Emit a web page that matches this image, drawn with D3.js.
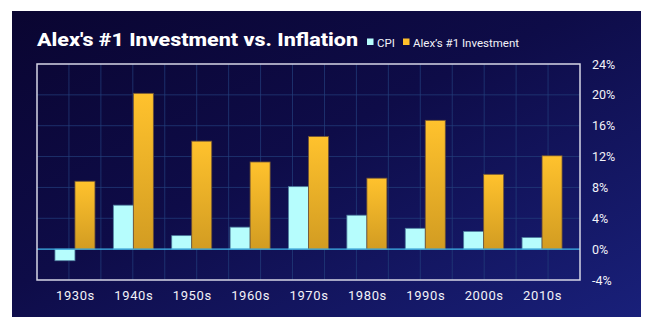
<!DOCTYPE html>
<html>
<head>
<meta charset="utf-8">
<script src="https://cdn.jsdelivr.net/npm/d3@7"></script>
<style>
  html, body { margin: 0; padding: 0; background: #fff; }
  svg { display: block; }
  text { font-family: Roboto, "Noto Sans", sans-serif; }
</style>
</head>
<body>
<svg id="chart" width="654" height="330"></svg>
<script>
// decades on the x axis
const decades = ["1930s", "1940s", "1950s", "1960s", "1970s", "1980s", "1990s", "2000s", "2010s"];
// average annual change per decade, %
const cpi = [-1.5, 5.7, 1.75, 2.85, 8.1, 4.4, 2.7, 2.3, 1.5];
const investment = [8.8, 20.2, 14.0, 11.3, 14.6, 9.2, 16.7, 9.7, 12.1];
const yTicks = [-4, 0, 4, 8, 12, 16, 20, 24];
const seriesNames = ["CPI", "Alex\u2019s #1 Investment"];

const W = 654, H = 330;
const panel = { x: 12, y: 11, w: 629, h: 306 };
const plot = { left: 37, right: 580, top: 64, bottom: 280 };

const svg = d3.select("#chart");
const defs = svg.append("defs");

// panel background: dark navy to blue toward the bottom right
const bg = defs.append("linearGradient").attr("id", "bg")
  .attr("x1", "0%").attr("y1", "0%").attr("x2", "100%").attr("y2", "100%");
bg.append("stop").attr("offset", "0%").attr("stop-color", "#0a0531");
bg.append("stop").attr("offset", "45%").attr("stop-color", "#0e0c48");
bg.append("stop").attr("offset", "100%").attr("stop-color", "#19207a");

const gold = defs.append("linearGradient").attr("id", "gold")
  .attr("x1", "0").attr("y1", "0").attr("x2", "0").attr("y2", "1");
gold.append("stop").attr("offset", "0%").attr("stop-color", "#ffc22d");
gold.append("stop").attr("offset", "100%").attr("stop-color", "#d29c22");

svg.append("rect")
  .attr("x", panel.x).attr("y", panel.y)
  .attr("width", panel.w).attr("height", panel.h)
  .attr("fill", "url(#bg)");

// scales
const x = d3.scalePoint().domain(decades)
  .range([plot.left, plot.right]).padding(0.65);
const y = d3.scaleLinear().domain([-4, 24]).range([plot.bottom, plot.top]);
const barW = 20;

// grid: horizontal every 4%, vertical every 1/17 of the width
const grid = svg.append("g");
grid.selectAll("line.h")
  .data(yTicks.filter(t => t !== 0 && t !== -4 && t !== 24))
  .join("line")
  .attr("x1", plot.left).attr("x2", plot.right)
  .attr("y1", d => y(d)).attr("y2", d => y(d))
  .attr("stroke", "#23407e").attr("stroke-opacity", 0.7).attr("stroke-width", 1);

const xGrid = d3.scaleLinear().domain([0, 17]).range([plot.left, plot.right]);
grid.selectAll("line.v")
  .data(d3.range(1, 17))
  .join("line")
  .attr("x1", d => xGrid(d)).attr("x2", d => xGrid(d))
  .attr("y1", plot.top).attr("y2", plot.bottom)
  .attr("stroke", "#23407e").attr("stroke-opacity", 0.7).attr("stroke-width", 1);

// bars
const bars = svg.append("g");
bars.selectAll("rect.cpi")
  .data(decades)
  .join("rect")
  .attr("x", d => x(d) - barW)
  .attr("y", (d, i) => y(Math.max(0, cpi[i])))
  .attr("width", barW)
  .attr("height", (d, i) => Math.abs(y(cpi[i]) - y(0)))
  .attr("fill", "#b6fdfd")
  .attr("stroke", "#4f7fa0").attr("stroke-width", 0.8);

bars.selectAll("rect.inv")
  .data(decades)
  .join("rect")
  .attr("x", d => x(d))
  .attr("y", (d, i) => y(Math.max(0, investment[i])))
  .attr("width", barW)
  .attr("height", (d, i) => Math.abs(y(investment[i]) - y(0)))
  .attr("fill", "url(#gold)")
  .attr("stroke", "#6e5236").attr("stroke-width", 0.8);

// zero line
svg.append("line")
  .attr("x1", plot.left).attr("x2", plot.right)
  .attr("y1", y(0)).attr("y2", y(0))
  .attr("stroke", "#3fb4ea").attr("stroke-width", 1.3);

// frame
svg.append("rect")
  .attr("x", plot.left).attr("y", plot.top)
  .attr("width", plot.right - plot.left).attr("height", plot.bottom - plot.top)
  .attr("fill", "none").attr("stroke", "#d6d6e6").attr("stroke-width", 1.5);

// right axis
const yAxis = svg.append("g")
  .attr("transform", `translate(${plot.right + 12},0)`)
  .call(d3.axisRight(y).tickValues(yTicks).tickSize(0).tickPadding(0).tickFormat(d => d + "%"));
yAxis.select(".domain").remove();
yAxis.selectAll("text")
  .attr("fill", "#f2f2f8").attr("font-size", 12.5)
  .style("font-family", "Roboto, sans-serif");

// bottom axis
const xAxis = svg.append("g")
  .attr("transform", `translate(0,${plot.bottom})`)
  .call(d3.axisBottom(x).tickSize(0).tickPadding(11));
xAxis.select(".domain").remove();
xAxis.selectAll("text")
  .attr("fill", "#f2f2f8").attr("font-size", 13)
  .attr("letter-spacing", 0.6)
  .style("font-family", "Roboto, sans-serif");

// title
const title = svg.append("text")
  .attr("x", plot.left).attr("y", 45.5)
  .attr("fill", "#ffffff").attr("font-size", 19).attr("font-weight", 800)
  .style("font-family", "Roboto, sans-serif")
  .text("Alex's #1 Investment vs. Inflation");
const tw = title.node().getComputedTextLength();
if (tw > 0) title.attr("textLength", 321).attr("lengthAdjust", "spacingAndGlyphs");

// legend
const legendColors = ["#b6fdfd", "#ffbf2a"];
const legendX = [367, 403];
const legend = svg.append("g");
seriesNames.forEach((name, i) => {
  legend.append("rect")
    .attr("x", legendX[i]).attr("y", 38.5)
    .attr("width", 6.5).attr("height", 6.5)
    .attr("fill", legendColors[i]);
  legend.append("text")
    .attr("x", legendX[i] + 10).attr("y", 46.5)
    .attr("fill", "#f2f2f8").attr("font-size", 11.5)
    .style("font-family", "Roboto, sans-serif")
    .text(name);
});
</script>
</body>
</html>
